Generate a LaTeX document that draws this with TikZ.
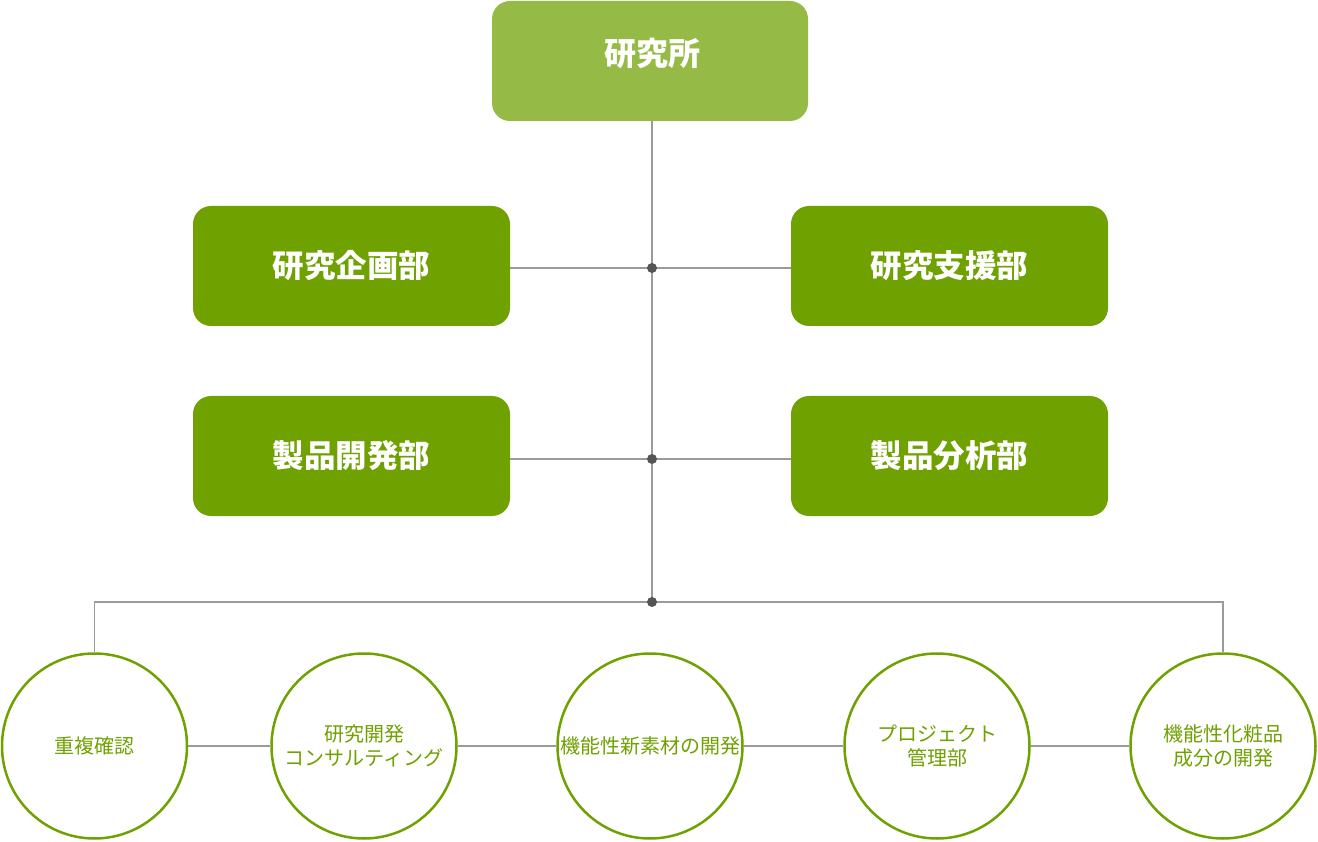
\documentclass[tikz,border=0pt]{standalone}
\usepackage{fontspec}
\setmainfont{Noto Sans CJK JP}
\definecolor{topgreen}{HTML}{95BB46}
\definecolor{deptgreen}{HTML}{6FA100}
\definecolor{linegray}{HTML}{9A9A9A}
\definecolor{dotgray}{HTML}{555555}
\begin{document}
\begin{tikzpicture}[x=1pt,y=-1pt,
  topbox/.style={fill=topgreen, rounded corners=18pt, minimum width=316pt, minimum height=120pt, inner sep=0pt},
  deptbox/.style={fill=deptgreen, rounded corners=18pt, minimum width=317pt, minimum height=120pt, inner sep=0pt, text=white, font=\fontsize{31.5}{38}\selectfont\bfseries},
  titletext/.style={text=white, inner sep=0pt, font=\fontsize{32}{38}\selectfont\bfseries},
  unitcircle/.style={circle, draw=deptgreen, line width=2.5pt, fill=white, minimum size=185pt, inner sep=0pt, text=deptgreen, align=center, font=\fontsize{20}{24.5}\selectfont},
  conn/.style={draw=linegray, line width=1.3pt},
  junction/.style={circle, fill=dotgray, inner sep=0pt, minimum size=10pt}]
\useasboundingbox (0,0) rectangle (1318,842);

% top
\node[topbox] (top) at (650,61) {};
\node[titletext] (toptext) at (652,53) {研究所};

% departments
\node[deptbox] (plan) at (351.5,266) {研究企画部};
\node[deptbox] (support) at (949.5,266) {研究支援部};
\node[deptbox] (dev) at (351.5,456) {製品開発部};
\node[deptbox] (anal) at (949.5,456) {製品分析部};

% junction coordinates
\coordinate (j1) at (652,268);
\coordinate (j2) at (652,459);
\coordinate (j3) at (652,602);
\coordinate (trunktop) at (652,121);

% circles
\node[unitcircle] (c1) at (94.5,746) {重複確認};
\node[unitcircle] (c2) at (364,746) {研究開発\\コンサルティング};
\node[unitcircle] (c3) at (650,746) {機能性新素材の開発};
\node[unitcircle] (c4) at (937,746) {プロジェクト\\管理部};
\node[unitcircle] (c5) at (1223,746) {機能性化粧品\\成分の開発};

% connectors
\draw[conn] (trunktop) -- (j3);
\draw[conn] (plan.east |- j1) -- (j1) -- (support.west |- j1);
\draw[conn] (dev.east |- j2) -- (j2) -- (anal.west |- j2);
\draw[conn] (j3) -| (c1.north);
\draw[conn] (j3) -| (c5.north);
\draw[conn] (c1.east) -- (c2.west);
\draw[conn] (c2.east) -- (c3.west);
\draw[conn] (c3.east) -- (c4.west);
\draw[conn] (c4.east) -- (c5.west);

% junction dots
\node[junction] (d1) at (j1) {};
\node[junction] (d2) at (j2) {};
\node[junction] (d3) at (j3) {};
\end{tikzpicture}
\end{document}
